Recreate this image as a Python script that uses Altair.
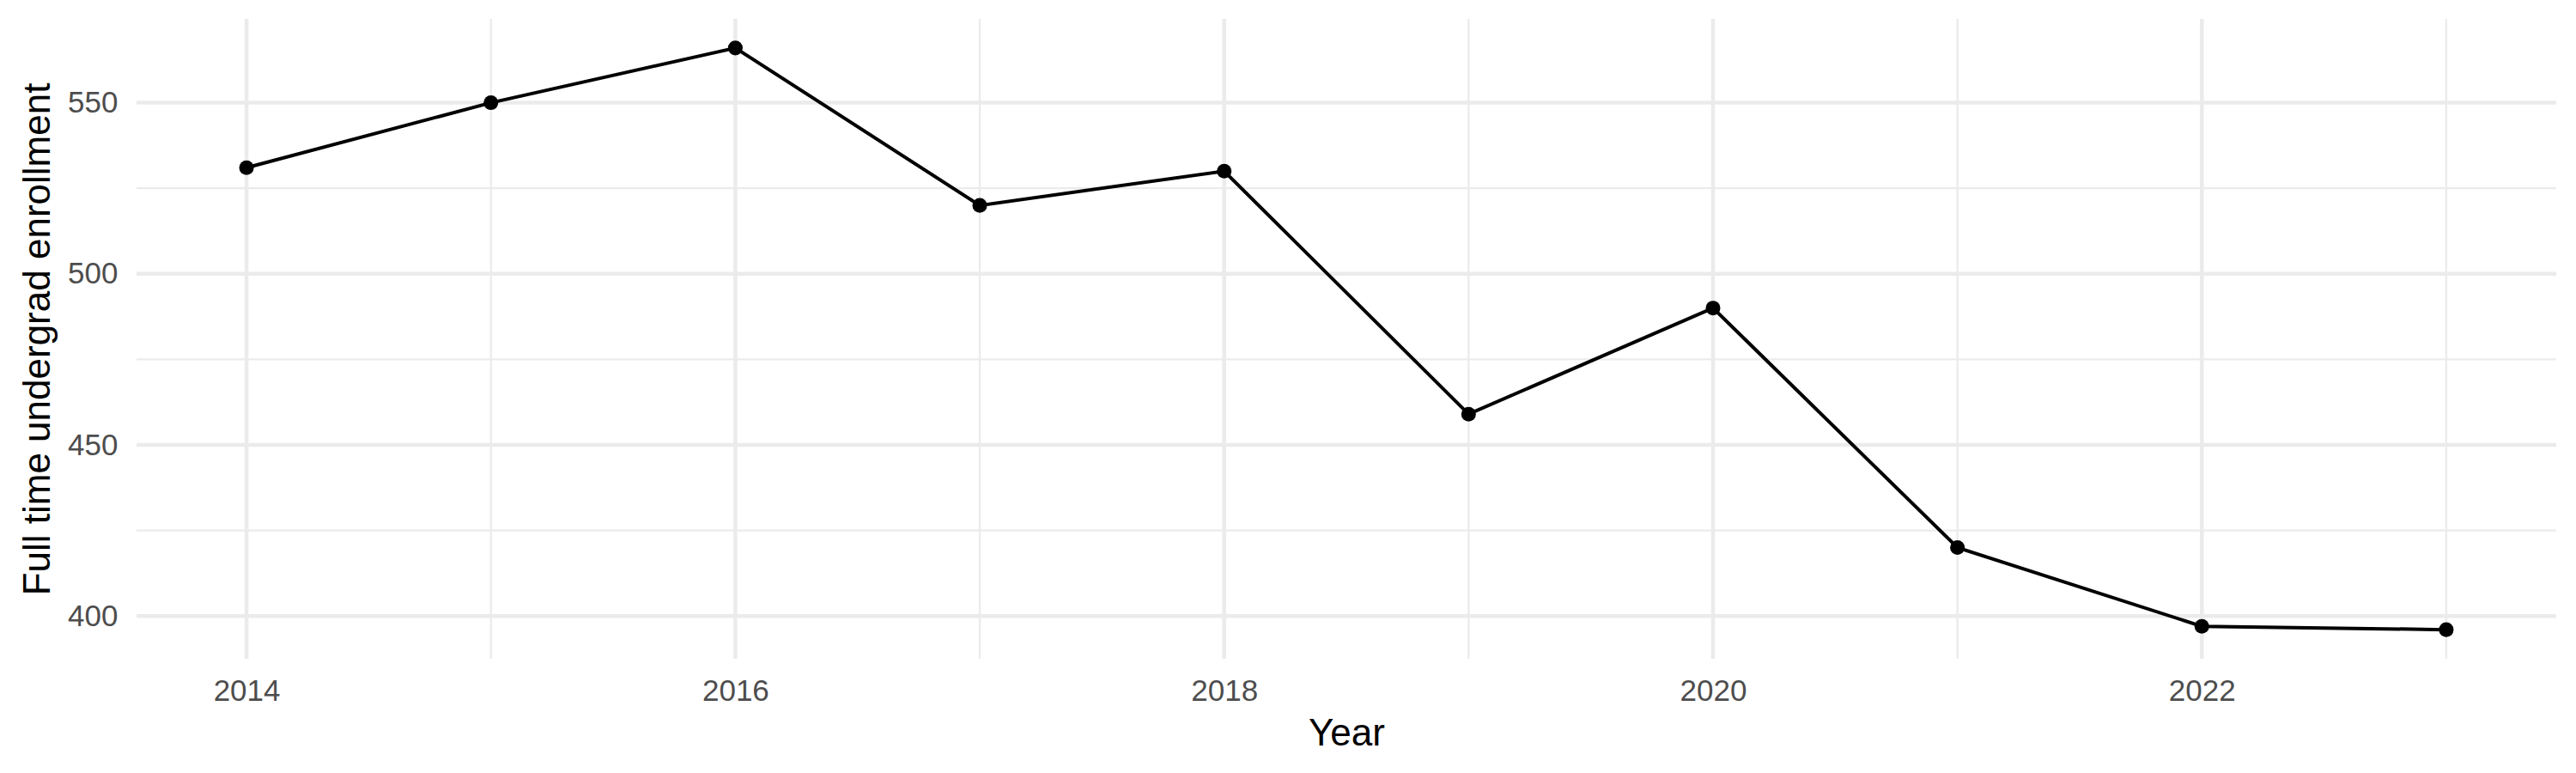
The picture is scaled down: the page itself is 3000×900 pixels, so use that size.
import altair as alt
import pandas as pd

years = [2014, 2015, 2016, 2017, 2018, 2019, 2020, 2021, 2022, 2023]
enrollment = [531, 550, 566, 520, 530, 459, 490, 420, 397, 396]

df = pd.DataFrame({"Year": years, "Enrollment": enrollment})

FONT = "Liberation Sans"
W, H = 2818, 745

x_major = [2014, 2016, 2018, 2020, 2022]
x_minor = [2015, 2017, 2019, 2021, 2023]
y_major = [400, 450, 500, 550]
y_minor = [425, 475, 525]

xscale = alt.Scale(domain=[2013.55, 2023.45], nice=False, zero=False)
yscale = alt.Scale(domain=[387.5, 574.5], nice=False, zero=False)

grid_col = "#EBEBEB"

x_axis = alt.Axis(values=x_major, format="d", grid=False, domain=False, ticks=False,
                  tickSize=0, labelPadding=48, labelBaseline="alphabetic",
                  labelFont=FONT, labelFontSize=35, labelColor="#4D4D4D",
                  titleFont=FONT, titleFontSize=44, titleFontWeight="normal",
                  titleColor="black", titleBaseline="alphabetic",
                  titleX=W / 2, titleY=100, titleAlign="center")
y_axis = alt.Axis(values=y_major, grid=False, domain=False, ticks=False,
                  tickSize=0, labelPadding=22, labelBaseline="middle",
                  labelFont=FONT, labelFontSize=35, labelColor="#4D4D4D",
                  titleFont=FONT, titleFontSize=44, titleFontWeight="normal",
                  titleColor="black", titleBaseline="alphabetic", titleAngle=270,
                  titleX=-102, titleY=H / 2, titleAlign="center")


def xe(field):
    return alt.X(field, scale=xscale, title="Year", axis=x_axis)


def ye(field):
    return alt.Y(field, scale=yscale, title="Full time undergrad enrollment", axis=y_axis)


vminor = alt.Chart(pd.DataFrame({"v": x_minor})).mark_rule(color=grid_col, strokeWidth=2.3).encode(
    x=xe("v:Q"))
vmajor = alt.Chart(pd.DataFrame({"v": x_major})).mark_rule(color=grid_col, strokeWidth=4.5).encode(
    x=xe("v:Q"))
hminor = alt.Chart(pd.DataFrame({"v": y_minor})).mark_rule(color=grid_col, strokeWidth=2.3).encode(
    y=ye("v:Q"))
hmajor = alt.Chart(pd.DataFrame({"v": y_major})).mark_rule(color=grid_col, strokeWidth=4.5).encode(
    y=ye("v:Q"))

base = alt.Chart(df).encode(x=xe("Year:Q"), y=ye("Enrollment:Q"))

line = base.mark_line(color="black", strokeWidth=4)
pts = base.mark_point(filled=True, color="black", size=290, opacity=1)

chart = alt.layer(vminor, vmajor, hminor, hmajor, line, pts).properties(
    width=W, height=H,
    background="white",
    autosize=alt.AutoSizeParams(type="none"),
    padding={"left": 151, "top": 14, "right": 15, "bottom": 125},
).configure_view(strokeWidth=0, stroke="transparent")

chart.save("out.html", embed_options={"renderer": "svg", "actions": False})
